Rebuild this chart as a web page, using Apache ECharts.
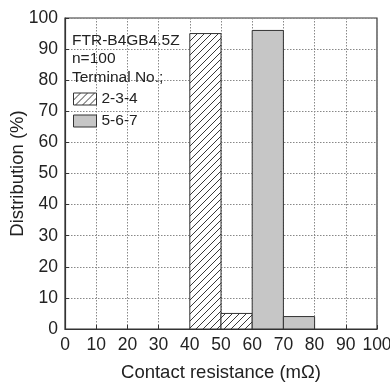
<!DOCTYPE html>
<html><head><meta charset="utf-8">
<script src="https://cdn.jsdelivr.net/npm/echarts@6/dist/echarts.min.js"></script>
<style>html,body{margin:0;padding:0;background:#fff}#c{width:390px;height:383px}</style>
</head><body><div id="c"></div>
<script>
// Data
const binEdges = [0,10,20,30,40,50,60,70,80,90,100];
const seriesNames = ['2-3-4','5-6-7'];
const values234 = [0,0,0,0,95,5,0,0,0,0];
const values567 = [0,0,0,0,0,0,96,4,0,0];
const xTicks = [0,10,20,30,40,50,60,70,80,90,100];
const yTicks = [0,10,20,30,40,50,60,70,80,90,100];
const infoLines = ['FTR-B4GB4.5Z','n=100','Terminal No.;'];

function hatch(){
  const s=7, c=document.createElement('canvas');
  c.width=s;c.height=s;
  const g=c.getContext('2d');
  g.fillStyle='#fff';g.fillRect(0,0,s,s);
  g.strokeStyle='#222';g.lineWidth=0.9;
  g.beginPath();
  for(let k=-1;k<=1;k++){g.moveTo(k*s-1,s+1);g.lineTo(k*s+s+1,-1);}
  g.stroke();
  return c;
}
const hatchFill={image:hatch(),repeat:'repeat'};
const grayFill='#c6c6c6';

function toData(vals){
  const out=[];
  vals.forEach((v,i)=>{ if(v>0) out.push([binEdges[i],binEdges[i+1],v]); });
  return out;
}
function renderBar(fill){
  return function(params,api){
    const p0=api.coord([api.value(0),0]);
    const p1=api.coord([api.value(1),api.value(2)]);
    return {type:'rect',shape:{x:p0[0],y:p1[1],width:p1[0]-p0[0],height:p0[1]-p1[1]},
      style:{fill:fill,stroke:'#333',lineWidth:1}};
  };
}
const font='Liberation Sans, Arial, sans-serif';
const chart=echarts.init(document.getElementById('c'),null,{renderer:'canvas'});
chart.setOption({
  animation:false,
  textStyle:{fontFamily:font,color:'#222'},
  grid:{left:65,top:18,width:312,height:311,show:true,borderColor:'#333',borderWidth:1.2,backgroundColor:'transparent',
    containLabel:false,outerBoundsMode:'none'},
  xAxis:{type:'value',min:0,max:100,interval:10,
    name:'Contact resistance (mΩ)',nameLocation:'middle',nameGap:34,nameMoveOverlap:false,
    nameTextStyle:{fontSize:18.5,color:'#222',fontFamily:font},
    axisLine:{show:true,lineStyle:{color:'#333',width:1.2}},
    axisTick:{show:true,inside:true,length:4,lineStyle:{color:'#333'}},
    axisLabel:{fontSize:17.5,color:'#222',margin:7,fontFamily:font,formatter:v=>xTicks.includes(v)?String(v):''},
    splitLine:{show:true,lineStyle:{color:'#888',type:[1.5,1.5],width:1}}},
  yAxis:{type:'value',min:0,max:100,interval:10,
    name:'Distribution (%)',nameLocation:'middle',nameGap:38,nameMoveOverlap:false,
    nameTextStyle:{fontSize:18.5,color:'#222',fontFamily:font},
    axisLine:{show:true,lineStyle:{color:'#333',width:1.2}},
    axisTick:{show:true,inside:true,length:4,lineStyle:{color:'#333'}},
    axisLabel:{fontSize:17.5,color:'#222',margin:7,fontFamily:font,formatter:v=>yTicks.includes(v)?String(v):''},
    splitLine:{show:true,lineStyle:{color:'#888',type:[1.5,1.5],width:1}}},
  title:{text:infoLines.join('\n'),left:72,top:31,padding:0,
    textStyle:{fontSize:15.5,fontWeight:'normal',color:'#222',lineHeight:18.5,fontFamily:font}},
  legend:{orient:'vertical',left:73,top:91,padding:0,itemWidth:23,itemHeight:12,itemGap:6,
    textStyle:{fontSize:15.5,color:'#222',fontFamily:font},
    data:[{name:seriesNames[0],icon:'rect',itemStyle:{color:hatchFill,borderColor:'#333',borderWidth:1}},
          {name:seriesNames[1],icon:'rect',itemStyle:{color:grayFill,borderColor:'#333',borderWidth:1}}]},
  series:[
    {type:'custom',name:seriesNames[0],renderItem:renderBar(hatchFill),data:toData(values234),
      encode:{x:[0,1],y:2},itemStyle:{color:hatchFill,borderColor:'#333'}},
    {type:'custom',name:seriesNames[1],renderItem:renderBar(grayFill),data:toData(values567),
      encode:{x:[0,1],y:2},itemStyle:{color:grayFill,borderColor:'#333'}}
  ]
});
</script></body></html>
